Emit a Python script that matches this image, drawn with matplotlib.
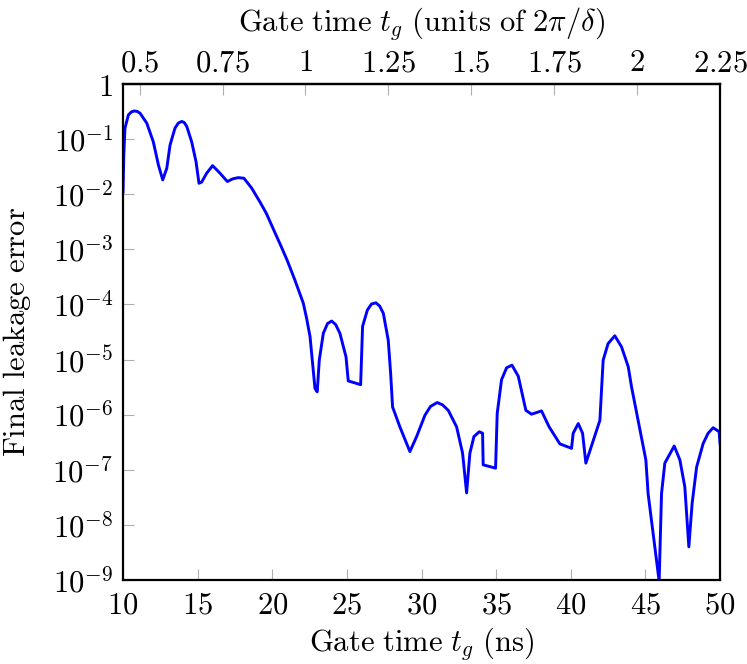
import matplotlib.pyplot as plt
from matplotlib.ticker import FixedLocator, FixedFormatter, NullLocator, FuncFormatter

plt.rcParams['mathtext.fontset'] = 'cm'
plt.rcParams['font.family'] = 'serif'
plt.rcParams['font.serif'] = ['DejaVu Serif']

# gate time (ns) and final leakage error
gate_ns = [10.0, 10.05, 10.13, 10.36, 10.55, 10.74, 10.95, 11.14, 11.59, 12.03, 12.37, 12.66,
           12.93, 13.15, 13.48, 13.7, 13.93, 14.1, 14.27, 14.6, 14.89, 15.09, 15.27, 15.6,
           16.0, 16.5, 16.99, 17.35, 17.72, 18.1, 18.62, 19.18, 19.6, 20.1,
           20.6, 21.0, 21.52, 22.08, 22.3, 22.53, 22.86, 23.01, 23.15, 23.42,
           23.7, 23.98, 24.25, 24.53, 24.94, 25.09, 25.92, 26.05, 26.37, 26.65,
           26.95, 27.2, 27.44, 27.77, 27.93, 28.06, 28.55, 29.22, 29.67, 30.23,
           30.6, 31.05, 31.4, 31.79, 32.35, 32.75, 33.02, 33.24, 33.51, 33.87,
           34.09, 34.13, 34.96, 35.07, 35.36, 35.7, 36.06, 36.48, 36.99, 37.37,
           38.04, 38.55, 39.27, 40.05, 40.16, 40.5, 40.79, 41.01, 41.95, 42.06,
           42.17, 42.5, 42.95, 43.4, 43.85, 44.07, 44.51, 45.03, 45.18, 45.92,
           46.08, 46.3, 46.93, 47.31, 47.64, 47.91, 48.13, 48.43, 48.87, 49.2, 49.54,
           49.94, 50.0]
leakage = [1.1e-2, 5.0e-2, 0.158, 0.275, 0.31, 0.324, 0.318, 0.295, 0.195, 8.9e-2, 3.4e-2, 1.82e-2,
           2.95e-2, 7.8e-2, 0.158, 0.195, 0.209, 0.2, 0.17, 8.9e-2, 3.9e-2, 1.58e-2, 1.66e-2, 2.4e-2,
           3.3e-2, 2.4e-2, 1.7e-2, 1.9e-2, 2.0e-2, 1.95e-2, 1.29e-2, 7.2e-3, 4.5e-3, 2.24e-3,
           1.12e-3, 6.3e-4, 2.75e-4, 1.05e-4, 5.6e-5, 2.6e-5, 3.0e-6, 2.6e-6, 9.8e-6, 3.0e-5,
           4.5e-5, 5.0e-5, 4.3e-5, 3.0e-5, 1.12e-5, 4.1e-6, 3.5e-6, 4.0e-5, 7.9e-5, 1.02e-4,
           1.07e-4, 9.3e-5, 6.9e-5, 2.24e-5, 5.6e-6, 1.38e-6, 6.0e-7, 2.14e-7, 4.0e-7, 9.8e-7,
           1.41e-6, 1.66e-6, 1.51e-6, 1.2e-6, 6.0e-7, 2.0e-7, 3.8e-8, 2.0e-7, 4.0e-7, 4.9e-7,
           4.6e-7, 1.23e-7, 1.07e-7, 1.05e-6, 4.3e-6, 7.1e-6, 7.9e-6, 5.0e-6, 1.2e-6, 1.02e-6,
           1.17e-6, 6.0e-7, 2.95e-7, 2.45e-7, 4.6e-7, 6.9e-7, 4.6e-7, 1.32e-7, 7.9e-7, 2.8e-6,
           9.8e-6, 1.95e-5, 2.7e-5, 1.7e-5, 7.4e-6, 3.2e-6, 7.9e-7, 1.51e-7, 3.7e-8, 9.5e-10,
           3.7e-8, 1.32e-7, 2.7e-7, 1.51e-7, 4.9e-8, 4.0e-9, 2.45e-8, 1.12e-7, 3.0e-7, 4.6e-7, 5.8e-7,
           4.9e-7, 3.0e-7]

period_ns = 22.22  # 2*pi/delta
top_ticks = [0.5, 0.75, 1, 1.25, 1.5, 1.75, 2, 2.25]
bottom_ticks = [10, 15, 20, 25, 30, 35, 40, 45, 50]
y_ticks = [1e-9, 1e-8, 1e-7, 1e-6, 1e-5, 1e-4, 1e-3, 1e-2, 1e-1, 1]
y_labels = [r'$10^{%d}$' % k for k in range(-9, 0)] + [r'$1$']

fs = 22
fig = plt.figure(figsize=(7.47, 6.64), dpi=100)
ax = fig.add_axes([0.1647, 0.1265, 0.7992, 0.747])
ax.plot(gate_ns, leakage, color=(0, 0, 1), lw=2.1)
ax.set_yscale('log')
ax.set_xlim(10, 50)
ax.set_ylim(1e-9, 1)

ax.xaxis.set_major_locator(FixedLocator(bottom_ticks))
ax.xaxis.set_major_formatter(FuncFormatter(lambda v, p: r'$%g$' % v))
ax.yaxis.set_major_locator(FixedLocator(y_ticks))
ax.yaxis.set_major_formatter(FixedFormatter(y_labels))
ax.yaxis.set_minor_locator(NullLocator())
ax.tick_params(direction='in', length=8, width=0.8, color='#b0b0b0',
               labelsize=fs, pad=7, top=False, right=False)
for s in ax.spines.values():
    s.set_linewidth(1.6)

ax.set_xlabel(r'$\mathrm{Gate\ time}\ t_g\ \mathrm{(ns)}$', fontsize=fs, labelpad=3)
ax.set_ylabel(r'$\mathrm{Final\ leakage\ error}$', fontsize=fs, labelpad=14)

sec = ax.secondary_xaxis('top', functions=(lambda t: t / period_ns, lambda u: u * period_ns))
sec.xaxis.set_major_locator(FixedLocator(top_ticks))
sec.xaxis.set_major_formatter(FuncFormatter(lambda v, p: r'$%g$' % v))
sec.xaxis.set_minor_locator(NullLocator())
sec.tick_params(direction='in', length=8, width=0.8, color='#b0b0b0', labelsize=fs, pad=4)
sec.spines['top'].set_linewidth(1.6)
sec.set_xlabel(r'$\mathrm{Gate\ time}\ t_g\ \mathrm{(units\ of}\ 2\pi/\delta)$', fontsize=fs, labelpad=12)

fig.savefig('out.png', dpi=100)
